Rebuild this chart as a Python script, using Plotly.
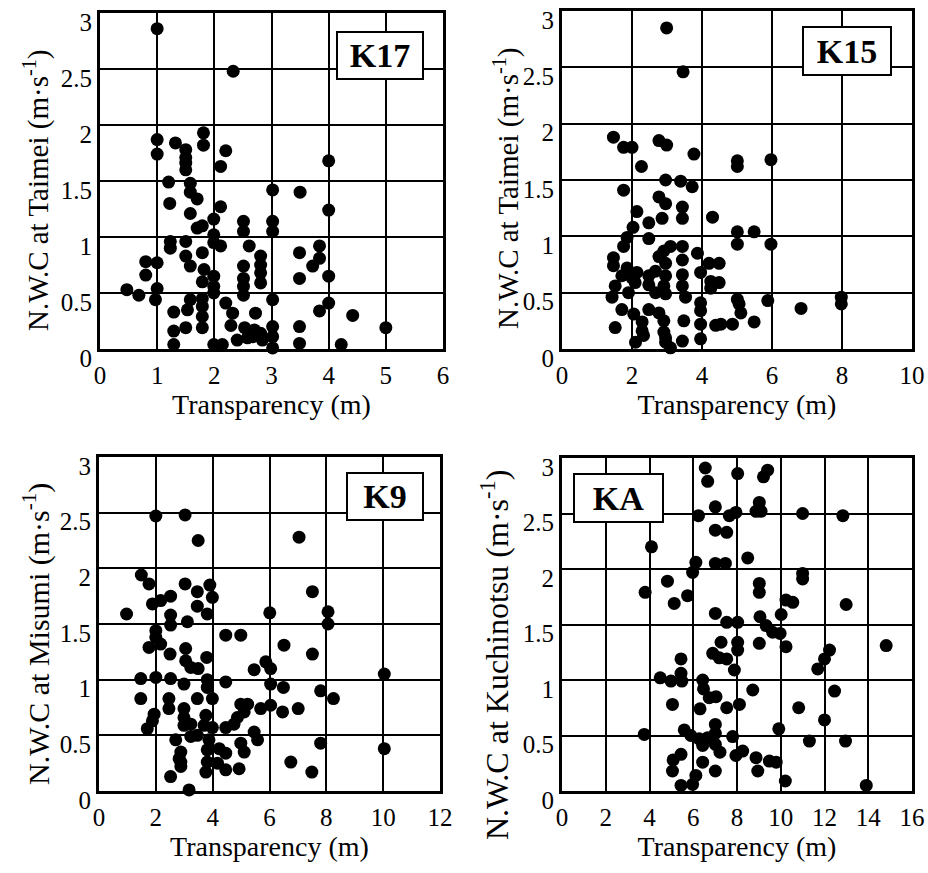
import plotly.graph_objects as go

# ---- data: transparency (m) vs. N.W.C (m/s) at four stations ----
k17_x = [1.0, 2.33, 1.81, 1.81, 1.32, 1.0, 1.0, 1.5, 1.5, 1.5,
         1.5, 2.2, 2.11, 4.0, 1.2, 1.58, 1.58, 1.7, 3.02, 3.5,
         1.22, 1.58, 2.11, 1.99, 4.0, 1.7, 1.79, 2.51, 2.51, 3.02,
         3.02, 1.99, 1.23, 1.23, 1.5, 1.99, 2.11, 2.61, 3.84, 3.84,
         3.49, 3.72, 3.49, 0.8, 1.0, 0.8, 1.5, 1.79, 1.58, 1.82,
         1.79, 1.99, 1.99, 2.81, 2.81, 2.81, 2.81, 2.51, 2.51, 2.51,
         2.51, 4.0, 0.47, 0.68, 1.0, 0.97, 1.58, 1.79, 1.99, 3.02,
         4.0, 2.2, 2.32, 2.72, 3.84, 4.42, 1.29, 1.53, 1.79, 1.79,
         1.79, 1.5, 1.29, 5.0, 2.29, 2.53, 2.7, 2.81, 3.02, 3.02,
         3.49, 2.4, 2.58, 1.29, 1.99, 2.14, 3.02, 3.49, 4.22, 2.84, 2.67]
k17_y = [2.86, 2.48, 1.93, 1.82, 1.84, 1.87, 1.74, 1.78, 1.71, 1.66,
         1.6, 1.77, 1.63, 1.68, 1.49, 1.48, 1.4, 1.34, 1.42, 1.4,
         1.3, 1.21, 1.27, 1.16, 1.24, 1.08, 1.1, 1.14, 1.05, 1.14,
         1.05, 1.02, 0.96, 0.9, 0.96, 0.95, 0.92, 0.92, 0.92, 0.81,
         0.86, 0.74, 0.63, 0.78, 0.77, 0.66, 0.83, 0.86, 0.74, 0.71,
         0.6, 0.65, 0.56, 0.83, 0.75, 0.68, 0.59, 0.74, 0.63, 0.56,
         0.48, 0.65, 0.53, 0.48, 0.54, 0.44, 0.44, 0.45, 0.5, 0.44,
         0.41, 0.41, 0.32, 0.32, 0.34, 0.3, 0.33, 0.35, 0.38, 0.29,
         0.19, 0.19, 0.16, 0.19, 0.21, 0.19, 0.17, 0.14, 0.2, 0.11,
         0.2, 0.08, 0.1, 0.04, 0.04, 0.04, 0.01, 0.05, 0.04, 0.08, 0.11]

k15_x = [2.99, 3.46, 1.47, 1.76, 2.0, 2.77, 2.99, 3.77, 2.27, 5.01,
         5.01, 5.97, 2.96, 3.39, 3.72, 1.76, 2.77, 2.96, 3.44, 3.44,
         2.86, 4.3, 2.14, 2.48, 2.03, 5.01, 5.49, 5.01, 5.97, 1.86,
         1.76, 2.48, 3.1, 2.91, 3.44, 3.87, 1.47, 1.47, 2.77, 2.96,
         3.44, 4.2, 4.49, 1.86, 2.14, 2.0, 1.71, 2.48, 2.67, 2.96,
         3.44, 3.96, 1.52, 2.09, 2.48, 2.91, 3.44, 4.25, 4.49, 4.25,
         1.43, 1.9, 2.67, 2.96, 3.53, 5.01, 5.88, 7.98, 7.98, 6.83,
         5.06, 5.11, 1.71, 2.05, 2.48, 2.77, 2.91, 3.96, 3.96, 1.52,
         2.29, 3.48, 3.96, 4.39, 4.54, 4.87, 5.49, 2.33, 2.1, 2.91,
         2.96, 3.1, 3.44, 3.96, 2.29, 2.96]
k15_y = [2.85, 2.46, 1.88, 1.79, 1.79, 1.85, 1.81, 1.73, 1.62, 1.67,
         1.62, 1.68, 1.5, 1.49, 1.44, 1.41, 1.35, 1.29, 1.26, 1.16,
         1.16, 1.17, 1.22, 1.12, 1.08, 1.04, 1.04, 0.93, 0.93, 0.99,
         0.91, 0.98, 0.91, 0.87, 0.91, 0.85, 0.81, 0.74, 0.82, 0.76,
         0.79, 0.76, 0.76, 0.72, 0.68, 0.63, 0.65, 0.65, 0.69, 0.65,
         0.66, 0.68, 0.56, 0.59, 0.57, 0.56, 0.56, 0.6, 0.59, 0.54,
         0.46, 0.5, 0.5, 0.49, 0.46, 0.44, 0.43, 0.46, 0.4, 0.36,
         0.4, 0.32, 0.35, 0.31, 0.35, 0.32, 0.25, 0.41, 0.34, 0.19,
         0.24, 0.25, 0.22, 0.21, 0.22, 0.22, 0.24, 0.12, 0.06, 0.15,
         0.06, 0.01, 0.07, 0.09, 0.16, 0.1]

k9_x = [2.0, 3.03, 3.49, 7.04, 1.49, 1.76, 3.03, 3.46, 3.9, 3.99,
        2.52, 2.17, 1.88, 3.46, 7.51, 0.97, 2.52, 3.11, 3.81, 2.52,
        6.01, 8.06, 8.06, 2.0, 2.0, 4.46, 4.99, 6.51, 1.76, 2.17,
        2.5, 3.05, 7.51, 3.05, 3.79, 5.87, 6.04, 3.23, 3.49, 5.46,
        1.47, 2.0, 2.52, 2.99, 3.81, 4.46, 6.04, 6.49, 10.04, 3.81,
        7.8, 8.25, 1.47, 2.46, 3.46, 3.99, 2.46, 6.04, 5.69, 4.99,
        5.23, 6.46, 7.01, 1.94, 1.88, 2.99, 2.99, 3.76, 4.87, 5.11,
        1.7, 2.99, 3.23, 3.7, 3.99, 4.46, 4.75, 5.46, 5.58, 7.8,
        10.04, 2.7, 3.23, 3.46, 3.87, 2.88, 3.81, 4.23, 4.46, 4.99,
        5.11, 2.88, 2.82, 3.81, 4.17, 4.46, 4.93, 6.75, 7.49, 2.52,
        3.76, 3.17, 2.88]
k9_y = [2.47, 2.48, 2.25, 2.28, 1.94, 1.86, 1.86, 1.79, 1.85, 1.74,
        1.75, 1.71, 1.68, 1.66, 1.79, 1.59, 1.58, 1.52, 1.59, 1.49,
        1.6, 1.61, 1.5, 1.44, 1.38, 1.4, 1.4, 1.31, 1.29, 1.32,
        1.23, 1.28, 1.23, 1.17, 1.2, 1.16, 1.1, 1.11, 1.1, 1.09,
        1.01, 1.02, 1.01, 0.96, 1.0, 0.98, 0.96, 0.93, 1.05, 0.93,
        0.9, 0.83, 0.83, 0.83, 0.83, 0.83, 0.74, 0.77, 0.74, 0.78,
        0.78, 0.71, 0.74, 0.69, 0.63, 0.74, 0.66, 0.68, 0.66, 0.71,
        0.56, 0.59, 0.6, 0.59, 0.57, 0.57, 0.6, 0.53, 0.46, 0.43,
        0.38, 0.46, 0.49, 0.5, 0.46, 0.35, 0.37, 0.38, 0.34, 0.43,
        0.35, 0.26, 0.29, 0.26, 0.25, 0.19, 0.2, 0.26, 0.17, 0.13,
        0.17, 0.01, 0.22]

ka_x = [6.55, 6.66, 8.03, 9.4, 9.21, 7.01, 9.02, 6.24, 7.65, 7.95,
        8.87, 9.1, 11.0, 12.84, 7.01, 7.53, 4.09, 6.12, 7.01, 7.47,
        8.49, 5.97, 11.0, 11.0, 4.82, 3.8, 5.74, 5.13, 9.02, 9.02,
        10.24, 10.55, 12.99, 7.01, 7.53, 8.03, 9.05, 10.02, 9.33, 9.63,
        9.97, 7.27, 8.03, 8.03, 9.02, 10.24, 14.82, 6.89, 7.19, 7.53,
        12.23, 12.0, 11.69, 5.44, 7.88, 4.49, 4.98, 5.44, 5.48, 6.43,
        6.47, 8.72, 12.46, 6.73, 7.04, 5.05, 6.31, 7.53, 8.11, 10.82,
        12.0, 3.76, 5.59, 5.89, 7.01, 7.01, 7.8, 9.91, 11.31, 12.96,
        6.27, 6.66, 6.43, 7.01, 7.22, 5.44, 5.08, 5.05, 6.43, 7.01,
        7.95, 8.26, 8.87, 8.95, 9.48, 9.79, 10.21, 6.12, 5.97, 5.44, 13.91]
ka_y = [2.91, 2.79, 2.86, 2.89, 2.83, 2.56, 2.6, 2.48, 2.48, 2.51,
        2.52, 2.52, 2.5, 2.48, 2.35, 2.33, 2.2, 2.06, 2.05, 2.05,
        2.1, 1.97, 1.96, 1.91, 1.89, 1.79, 1.76, 1.69, 1.87, 1.79,
        1.72, 1.7, 1.68, 1.6, 1.52, 1.52, 1.57, 1.59, 1.49, 1.43,
        1.42, 1.34, 1.34, 1.27, 1.33, 1.3, 1.31, 1.24, 1.2, 1.19,
        1.27, 1.19, 1.1, 1.19, 1.09, 1.02, 0.99, 1.06, 0.99, 1.0,
        0.92, 0.91, 0.9, 0.84, 0.85, 0.78, 0.74, 0.75, 0.78, 0.75,
        0.64, 0.51, 0.55, 0.5, 0.6, 0.52, 0.49, 0.56, 0.45, 0.45,
        0.47, 0.48, 0.41, 0.42, 0.35, 0.33, 0.28, 0.18, 0.26, 0.18,
        0.32, 0.36, 0.3, 0.18, 0.27, 0.26, 0.09, 0.14, 0.06, 0.05, 0.05]

station_names = ["K17", "K15", "K9", "KA"]
y_titles = ["N.W.C at Taimei (m·s<sup>-1</sup>)",
            "N.W.C at Taimei (m·s<sup>-1</sup>)",
            "N.W.C at Misumi (m·s<sup>-1</sup>)",
            "N.W.C at Kuchinotsu (m·s<sup>-1</sup>)"]
x_title = "Transparency (m)"
x_max = [6, 10, 12, 16]
x_step = [1, 2, 2, 2]
y_max = 3
y_step = 0.5

series = [(k17_x, k17_y), (k15_x, k15_y), (k9_x, k9_y), (ka_x, ka_y)]
for sx, sy in series:
    assert len(sx) == len(sy)

# ---- layout geometry (pixels -> paper fractions) ----
W, H = 928, 873
x_domains = [[100 / W, 443 / W], [562 / W, 912 / W],
             [99 / W, 440 / W], [562 / W, 912 / W]]
y_domains = [[1 - 349 / H, 1 - 13 / H], [1 - 349 / H, 1 - 11 / H],
             [1 - 791 / H, 1 - 457 / H], [1 - 791 / H, 1 - 458 / H]]
# rotated y titles: centre (px) and font size
y_title_pos = [(36, 190, 29), (506, 188, 29), (36, 634, 30), (495, 655, 32)]
# station label boxes: centre (px) and size (px)
label_boxes = [(380, 55, 88, 49), (847, 51, 90, 50),
               (385, 496, 78, 49), (618, 498, 91, 50)]

FONT = "Liberation Serif"
BLACK = "#000000"

fig = go.Figure()
layout = dict(
    width=W, height=H,
    margin=dict(l=0, r=0, t=0, b=0),
    paper_bgcolor="white", plot_bgcolor="white",
    showlegend=False,
    font=dict(family=FONT, color=BLACK, size=25),
)
annotations = []

for i, (sx, sy) in enumerate(series):
    n = "" if i == 0 else str(i + 1)
    fig.add_trace(go.Scatter(
        x=sx, y=sy, mode="markers",
        xaxis="x" + n, yaxis="y" + n,
        marker=dict(color=BLACK, size=13, line=dict(width=0)),
        cliponaxis=False, hoverinfo="x+y",
    ))
    layout["xaxis" + n] = dict(
        domain=x_domains[i], anchor="y" + n,
        range=[0, x_max[i]], tick0=0, dtick=x_step[i],
        showgrid=True, gridcolor=BLACK, gridwidth=2,
        zeroline=False, showline=True, linecolor=BLACK, linewidth=3,
        mirror=True, ticks="", ticklabelstandoff=2,
        ticklabeloverflow="allow",
        tickfont=dict(family=FONT, size=25, color=BLACK),
        title=dict(text=x_title, font=dict(family=FONT, size=28, color=BLACK),
                   standoff=6),
        automargin=False, fixedrange=True,
    )
    layout["yaxis" + n] = dict(
        domain=y_domains[i], anchor="x" + n,
        range=[0, y_max], tick0=0, dtick=y_step,
        showgrid=True, gridcolor=BLACK, gridwidth=2,
        zeroline=False, showline=True, linecolor=BLACK, linewidth=3,
        mirror=True, ticks="", ticklabelstandoff=0, ticklabelshift=9,
        ticklabeloverflow="allow",
        tickfont=dict(family=FONT, size=25, color=BLACK),
        automargin=False, fixedrange=True,
    )
    tx, ty, tsize = y_title_pos[i]
    annotations.append(dict(
        xref="paper", yref="paper", x=tx / W, y=1 - ty / H,
        xanchor="center", yanchor="middle", showarrow=False,
        textangle=-90, text=y_titles[i],
        font=dict(family=FONT, size=tsize, color=BLACK),
    ))
    cx, cy, bw, bh = label_boxes[i]
    annotations.append(dict(
        xref="paper", yref="paper", x=cx / W, y=1 - cy / H,
        xanchor="center", yanchor="middle", showarrow=False,
        text="<b>" + station_names[i] + "</b>",
        font=dict(family=FONT, size=34, color=BLACK),
        width=bw - 4, height=bh - 4, borderpad=0,
        bgcolor="white", bordercolor=BLACK, borderwidth=2,
    ))

layout["annotations"] = annotations
fig.update_layout(**layout)
fig.write_html("out.html")
